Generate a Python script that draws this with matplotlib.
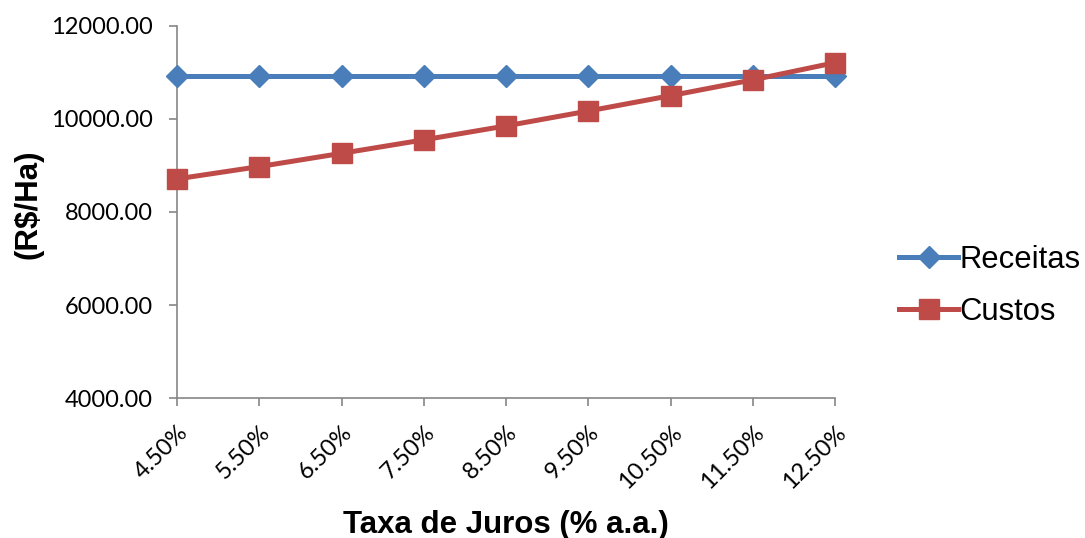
import matplotlib.pyplot as plt
from matplotlib.ticker import FormatStrFormatter

plt.rcParams['font.family'] = ['Liberation Sans', 'DejaVu Sans']

taxas = ['4.50%', '5.50%', '6.50%', '7.50%', '8.50%', '9.50%', '10.50%', '11.50%', '12.50%']
receitas = [10920, 10920, 10920, 10920, 10920, 10920, 10920, 10920, 10920]
custos = [8710, 8975, 9260, 9550, 9850, 10170, 10500, 10840, 11210]

fig = plt.figure(figsize=(10.85, 5.38), dpi=100)
ax = fig.add_axes([0.163, 0.260, 0.607, 0.692])

x = range(len(taxas))
ax.plot(x, receitas, color='#4A7EBB', lw=3.6, marker='D', ms=11.5,
        label='Receitas', clip_on=False, zorder=3)
ax.plot(x, custos, color='#BE4B48', lw=3.6, marker='s', ms=14,
        label='Custos', clip_on=False, zorder=4)

ax.set_xlim(0, len(taxas) - 1)
ax.set_ylim(4000, 12000)
ax.set_yticks([4000, 6000, 8000, 10000, 12000])
ax.yaxis.set_major_formatter(FormatStrFormatter('%.2f'))
ax.set_xticks(list(x))
ax.set_xticklabels(taxas, rotation=45, ha='right', rotation_mode='anchor')

for s in ['top', 'right']:
    ax.spines[s].set_visible(False)
for s in ['left', 'bottom']:
    ax.spines[s].set_color('#868686')
    ax.spines[s].set_linewidth(1.2)
ax.tick_params(axis='both', colors='#868686', labelcolor='black',
               labelsize=17, length=6, width=1.2, direction='out')
ax.tick_params(axis='x', pad=11)
ax.tick_params(axis='y', pad=11)
for lab in ax.get_xticklabels() + ax.get_yticklabels():
    lab.set_family(['Lato', 'DejaVu Sans'])

ax.set_xlabel('Taxa de Juros (% a.a.)', fontsize=22.5, fontweight='bold')
ax.xaxis.set_label_coords(0.5, -0.30)
ax.set_ylabel('(R$/Ha)', fontsize=22.5, fontweight='bold')
ax.yaxis.set_label_coords(-0.203, 0.52)

fig.legend(loc='center left', bbox_to_anchor=(0.803, 0.469), frameon=False,
           fontsize=22.3, handlelength=1.9, handletextpad=0.05, labelspacing=0.72)

fig.savefig('out.png', dpi=100)
